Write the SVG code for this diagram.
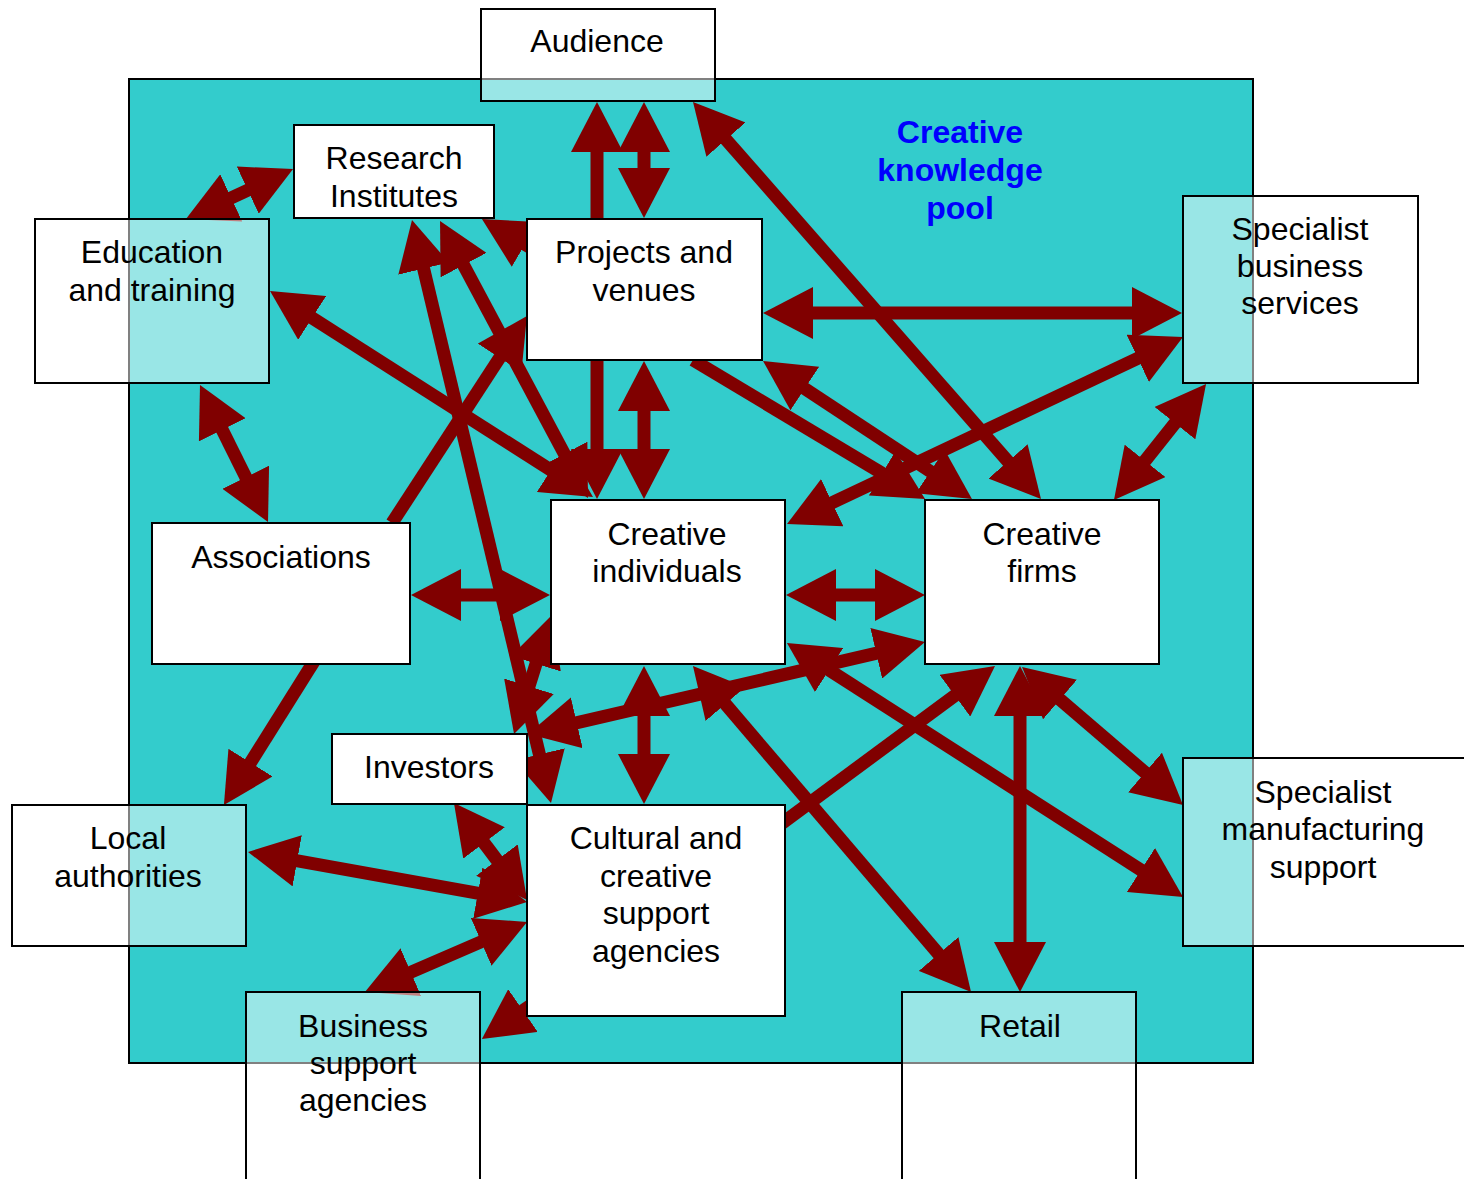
<svg xmlns="http://www.w3.org/2000/svg" width="1464" height="1179" viewBox="0 0 1464 1179">
<style>
.pool{fill:#33CCCC;stroke:#000;stroke-width:2}
.box{fill:#fff;stroke:#000;stroke-width:2}
.obox{fill:#fff;fill-opacity:0.5;stroke:#000;stroke-width:2}
text{font-family:"Liberation Sans",Arial,sans-serif;font-size:32px;fill:#000;text-anchor:middle}
.title{font-weight:bold;fill:#0000FF}
#connectors line{stroke:#800000;stroke-width:13;fill:none}
.dbl{marker-start:url(#ah);marker-end:url(#ah)}
.sgl{marker-end:url(#ah)}
</style>
<defs>
<marker id="ah" markerUnits="userSpaceOnUse" viewBox="0 0 50 52" markerWidth="50" markerHeight="52" refX="25" refY="26" orient="auto-start-reverse">
<path d="M0,0 L50,26 L0,52 Z" fill="#800000"/>
</marker>
</defs>
<rect x="0" y="0" width="1464" height="1179" fill="#fff"/>
<g id="pool">
<rect class="pool" x="129" y="79" width="1124" height="984"/>
<text class="title"><tspan x="960" y="143">Creative</tspan><tspan x="960" y="181">knowledge</tspan><tspan x="960" y="219">pool</tspan></text>
</g>
<g id="connectors">
<line class="sgl" x1="597" y1="219" x2="597" y2="127"/>
<line class="dbl" x1="644" y1="127" x2="644" y2="193"/>
<line class="sgl" x1="597" y1="360" x2="597" y2="474"/>
<line class="dbl" x1="644" y1="386" x2="644" y2="474"/>
<line class="dbl" x1="644" y1="691" x2="644" y2="779"/>
<line class="dbl" x1="208.6" y1="208.4" x2="270.4" y2="179.6"/>
<line class="dbl" x1="211.1" y1="407.4" x2="256.9" y2="499.6"/>
<line class="dbl" x1="788" y1="313" x2="1157" y2="313"/>
<line class="dbl" x1="709.5" y1="120.8" x2="1024.5" y2="480.2"/>
<line class="dbl" x1="417.8" y1="244.3" x2="545.2" y2="778.7"/>
<line class="dbl" x1="451.8" y1="243.05" x2="576.2" y2="475.95"/>
<line class="dbl" x1="291.1" y1="304.4" x2="571.9" y2="483.6"/>
<line class="sgl" x1="392" y1="523" x2="513.3" y2="336.9"/>
<line class="sgl" x1="565" y1="268" x2="503.5" y2="231.7"/>
<line class="sgl" x1="693" y1="360" x2="903.6" y2="486.15"/>
<line class="dbl" x1="783.9" y1="374.8" x2="951.1" y2="485.2"/>
<line class="dbl" x1="1160.4" y1="347.7" x2="809.6" y2="513.3"/>
<line class="dbl" x1="1129.5" y1="480.4" x2="1190.5" y2="403.6"/>
<line class="dbl" x1="436" y1="595" x2="525" y2="595"/>
<line class="dbl" x1="811" y1="595" x2="900" y2="595"/>
<line class="dbl" x1="521.5" y1="710.15" x2="543.5" y2="639.85"/>
<line class="dbl" x1="552.4" y1="728.4" x2="900.6" y2="647.6"/>
<line class="dbl" x1="709.2" y1="685" x2="954.8" y2="973"/>
<line class="sgl" x1="775" y1="828.4" x2="974.9" y2="680.8"/>
<line class="dbl" x1="1020" y1="691" x2="1020" y2="967"/>
<line class="dbl" x1="1041" y1="683.3" x2="1164" y2="788.7"/>
<line class="dbl" x1="808" y1="656.5" x2="1162" y2="883.5"/>
<line class="sgl" x1="318" y1="655" x2="237.2" y2="783.8"/>
<line class="dbl" x1="469" y1="823" x2="512" y2="880"/>
<line class="dbl" x1="272.6" y1="856.4" x2="502.4" y2="897.6"/>
<line class="dbl" x1="387.9" y1="982.1" x2="504.1" y2="931.9"/>
<line class="sgl" x1="560" y1="985" x2="502.45" y2="1024.8"/>
</g>
<g id="audience"><rect class="obox" x="481" y="9" width="234" height="92"/><text x="597" y="52">Audience</text></g>
<g id="research-institutes"><rect class="box" x="294" y="125" width="200" height="93"/><text><tspan x="394" y="169">Research</tspan><tspan x="394" y="207">Institutes</tspan></text></g>
<g id="education-training"><rect class="obox" x="35" y="219" width="234" height="164"/><text><tspan x="152" y="263">Education</tspan><tspan x="152" y="301">and training</tspan></text></g>
<g id="projects-venues"><rect class="box" x="527" y="219" width="235" height="141"/><text><tspan x="644" y="263">Projects and</tspan><tspan x="644" y="301">venues</tspan></text></g>
<g id="specialist-business-services"><rect class="obox" x="1183" y="196" width="235" height="187"/><text><tspan x="1300" y="240">Specialist</tspan><tspan x="1300" y="277">business</tspan><tspan x="1300" y="314">services</tspan></text></g>
<g id="associations"><rect class="box" x="152" y="523" width="258" height="141"/><text x="281" y="568">Associations</text></g>
<g id="creative-individuals"><rect class="box" x="551" y="500" width="234" height="164"/><text><tspan x="667" y="545">Creative</tspan><tspan x="667" y="582">individuals</tspan></text></g>
<g id="creative-firms"><rect class="box" x="925" y="500" width="234" height="164"/><text><tspan x="1042" y="545">Creative</tspan><tspan x="1042" y="582">firms</tspan></text></g>
<g id="investors"><rect class="box" x="332" y="734" width="195" height="70"/><text x="429" y="778">Investors</text></g>
<g id="local-authorities"><rect class="obox" x="12" y="805" width="234" height="141"/><text><tspan x="128" y="849">Local</tspan><tspan x="128" y="887">authorities</tspan></text></g>
<g id="cultural-creative-support"><rect class="box" x="527" y="805" width="258" height="211"/><text><tspan x="656" y="849">Cultural and</tspan><tspan x="656" y="887">creative</tspan><tspan x="656" y="924">support</tspan><tspan x="656" y="962">agencies</tspan></text></g>
<g id="business-support-agencies"><rect class="obox" x="246" y="992" width="234" height="200"/><text><tspan x="363" y="1037">Business</tspan><tspan x="363" y="1074">support</tspan><tspan x="363" y="1111">agencies</tspan></text></g>
<g id="retail"><rect class="obox" x="902" y="992" width="234" height="200"/><text x="1020" y="1037">Retail</text></g>
<g id="specialist-manufacturing-support"><rect class="obox" x="1183" y="758" width="290" height="188"/><text><tspan x="1323" y="803">Specialist</tspan><tspan x="1323" y="840">manufacturing</tspan><tspan x="1323" y="878">support</tspan></text></g>
</svg>
